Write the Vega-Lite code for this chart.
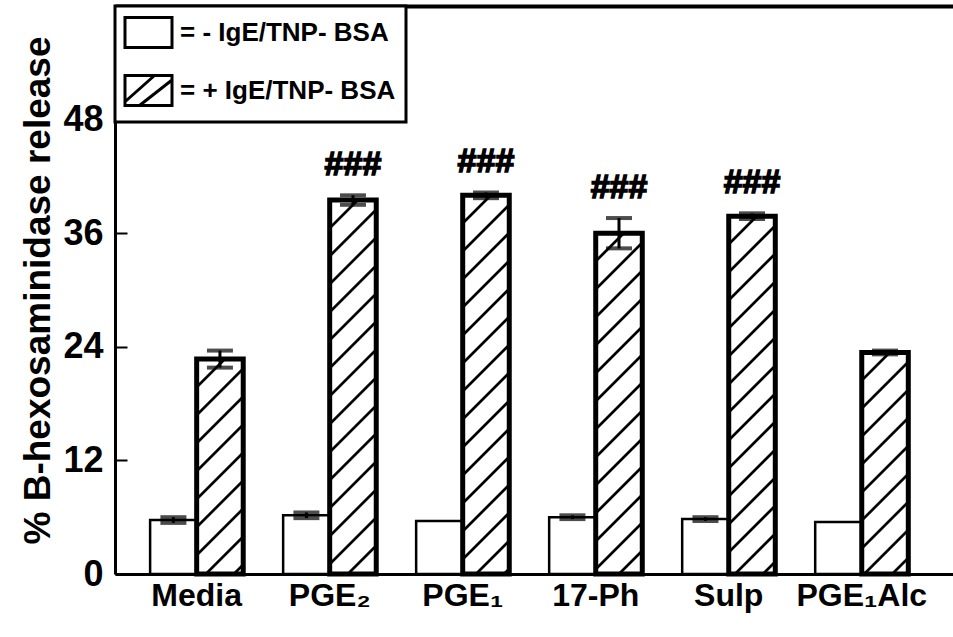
{
  "$schema": "https://vega.github.io/schema/vega-lite/v6.json",
  "width": 838,
  "height": 568,
  "autosize": {"type": "none"},
  "padding": {"left": 115, "top": 6, "right": 0, "bottom": 63},
  "background": "white",
  "config": {
    "view": {"stroke": null},
    "font": "Liberation Sans",
    "axis": {"domainColor": "black", "tickColor": "black", "labelColor": "black", "titleColor": "black", "grid": false},
    "legend": {"strokeWidth": 3, "strokeColor": "black", "fillColor": "white"}
  },
  "data": {
    "values": [
      {"cond": "Media", "group": "-", "mean": 5.7, "lo": 5.4, "hi": 6.0, "sig": ""},
      {"cond": "Media", "group": "+", "mean": 22.7, "lo": 21.8, "hi": 23.6, "sig": ""},
      {"cond": "PGE₂", "group": "-", "mean": 6.2, "lo": 5.9, "hi": 6.5, "sig": ""},
      {"cond": "PGE₂", "group": "+", "mean": 39.5, "lo": 39.0, "hi": 40.0, "sig": "###"},
      {"cond": "PGE₁", "group": "-", "mean": 5.6, "lo": null, "hi": null, "sig": ""},
      {"cond": "PGE₁", "group": "+", "mean": 40.0, "lo": 39.7, "hi": 40.3, "sig": "###"},
      {"cond": "17-Ph", "group": "-", "mean": 6.0, "lo": 5.8, "hi": 6.2, "sig": ""},
      {"cond": "17-Ph", "group": "+", "mean": 36.0, "lo": 34.4, "hi": 37.6, "sig": "###"},
      {"cond": "Sulp", "group": "-", "mean": 5.8, "lo": 5.6, "hi": 6.0, "sig": ""},
      {"cond": "Sulp", "group": "+", "mean": 37.8, "lo": 37.5, "hi": 38.1, "sig": "###"},
      {"cond": "PGE₁Alc", "group": "-", "mean": 5.5, "lo": null, "hi": null, "sig": ""},
      {"cond": "PGE₁Alc", "group": "+", "mean": 23.4, "lo": 23.2, "hi": 23.6, "sig": ""}
    ]
  },
  "resolve": {"axis": {"x": "independent", "y": "independent"}},
  "layer": [
    {
      "mark": {"type": "point", "filled": false, "stroke": "black", "strokeWidth": 3, "opacity": 1},
      "encoding": {
        "x": {"field": "cond", "type": "nominal", "sort": null,
          "axis": {"orient": "top", "labels": false, "ticks": false, "title": null, "domainWidth": 4, "domainColor": "black"}},
        "xOffset": {"field": "group", "type": "nominal", "scale": {"domain": ["-", "+"]}},
        "y": {"datum": 3, "type": "quantitative", "axis": null},
        "shape": {
          "field": "group", "type": "nominal",
          "scale": {"domain": ["-", "+"], "range": ["M-1.567,-1H1.567V1H-1.567Z", "M-1.567,-1H1.567V1H-1.567Z M-1.567,0.75L0.4,-1 M-0.6,1L1.567,-0.7"]},
          "legend": {
            "title": null, "orient": "top-left", "offset": 0, "padding": 10,
            "strokeColor": "black", "fillColor": "white",
            "labelFont": "Liberation Sans", "labelFontSize": 26, "labelFontWeight": "bold", "labelColor": "black", "labelLimit": 0,
            "labelExpr": "datum.label == '-' ? '= - IgE/TNP- BSA' : '= + IgE/TNP- BSA'",
            "symbolSize": 900, "symbolStrokeWidth": 3, "symbolStrokeColor": "black", "symbolFillColor": "white", "symbolOpacity": 1,
            "symbolOffset": 7, "labelOffset": 15, "rowPadding": 15
          }
        }
      }
    },
    {
      "mark": {"type": "bar", "stroke": "black"},
      "encoding": {
        "x": {"field": "cond", "type": "nominal", "sort": null,
          "scale": {"paddingInner": 0.3, "paddingOuter": 0.3, "align": 0.44},
          "axis": {"orient": "bottom", "title": null, "ticks": false, "domainWidth": 3, "labelAngle": 0,
            "labelFontSize": 32, "labelFontWeight": "bold", "labelPadding": 6}},
        "xOffset": {"field": "group", "type": "nominal", "scale": {"domain": ["-", "+"]}},
        "y": {"field": "mean", "type": "quantitative",
          "scale": {"domain": [0, 60], "nice": false, "zero": true},
          "axis": {"title": "% B-hexosaminidase release", "values": [0, 12, 24, 36, 48],
            "domainWidth": 3, "ticks": false, "labelPadding": 12,
            "labelFontSize": 36, "labelFontWeight": "bold", "titleFontSize": 37, "titleFontWeight": "bold",
            "titlePadding": 5}},
        "strokeWidth": {"condition": {"test": "datum.group == '+'", "value": 5}, "value": 2.5},
        "fill": {
          "condition": [
            {"test": "datum.group == '-'", "value": "white"},
            {"test": "datum.cond == 'Media'", "value": {"gradient": "linear", "x1": 0, "y1": 0, "x2": 0.4313, "y2": 1.9913, "stops": [
              {"offset": 0, "color": "white"},
              {"offset": 0.0565, "color": "white"}, {"offset": 0.06, "color": "black"}, {"offset": 0.065, "color": "black"}, {"offset": 0.0685, "color": "white"},
              {"offset": 0.119, "color": "white"}, {"offset": 0.1225, "color": "black"}, {"offset": 0.1275, "color": "black"}, {"offset": 0.131, "color": "white"},
              {"offset": 0.1815, "color": "white"}, {"offset": 0.185, "color": "black"}, {"offset": 0.19, "color": "black"}, {"offset": 0.1935, "color": "white"},
              {"offset": 0.244, "color": "white"}, {"offset": 0.2475, "color": "black"}, {"offset": 0.2525, "color": "black"}, {"offset": 0.256, "color": "white"},
              {"offset": 0.3065, "color": "white"}, {"offset": 0.31, "color": "black"}, {"offset": 0.315, "color": "black"}, {"offset": 0.3185, "color": "white"},
              {"offset": 0.369, "color": "white"}, {"offset": 0.3725, "color": "black"}, {"offset": 0.3775, "color": "black"}, {"offset": 0.381, "color": "white"},
              {"offset": 0.4315, "color": "white"}, {"offset": 0.435, "color": "black"}, {"offset": 0.44, "color": "black"}, {"offset": 0.4435, "color": "white"},
              {"offset": 0.494, "color": "white"}, {"offset": 0.4975, "color": "black"}, {"offset": 0.5025, "color": "black"}, {"offset": 0.506, "color": "white"},
              {"offset": 0.5565, "color": "white"}, {"offset": 0.56, "color": "black"}, {"offset": 0.565, "color": "black"}, {"offset": 0.5685, "color": "white"},
              {"offset": 0.619, "color": "white"}, {"offset": 0.6225, "color": "black"}, {"offset": 0.6275, "color": "black"}, {"offset": 0.631, "color": "white"},
              {"offset": 0.6815, "color": "white"}, {"offset": 0.685, "color": "black"}, {"offset": 0.69, "color": "black"}, {"offset": 0.6935, "color": "white"},
              {"offset": 0.744, "color": "white"}, {"offset": 0.7475, "color": "black"}, {"offset": 0.7525, "color": "black"}, {"offset": 0.756, "color": "white"},
              {"offset": 0.8065, "color": "white"}, {"offset": 0.81, "color": "black"}, {"offset": 0.815, "color": "black"}, {"offset": 0.8185, "color": "white"},
              {"offset": 0.869, "color": "white"}, {"offset": 0.8725, "color": "black"}, {"offset": 0.8775, "color": "black"}, {"offset": 0.881, "color": "white"},
              {"offset": 0.9315, "color": "white"}, {"offset": 0.935, "color": "black"}, {"offset": 0.94, "color": "black"}, {"offset": 0.9435, "color": "white"},
              {"offset": 1, "color": "white"}]}},
            {"test": "datum.cond == 'PGE₂'", "value": {"gradient": "linear", "x1": 0, "y1": 0, "x2": 0.1469, "y2": 1.1799, "stops": [
              {"offset": 0, "color": "white"},
              {"offset": 0.0565, "color": "white"}, {"offset": 0.06, "color": "black"}, {"offset": 0.065, "color": "black"}, {"offset": 0.0685, "color": "white"},
              {"offset": 0.119, "color": "white"}, {"offset": 0.1225, "color": "black"}, {"offset": 0.1275, "color": "black"}, {"offset": 0.131, "color": "white"},
              {"offset": 0.1815, "color": "white"}, {"offset": 0.185, "color": "black"}, {"offset": 0.19, "color": "black"}, {"offset": 0.1935, "color": "white"},
              {"offset": 0.244, "color": "white"}, {"offset": 0.2475, "color": "black"}, {"offset": 0.2525, "color": "black"}, {"offset": 0.256, "color": "white"},
              {"offset": 0.3065, "color": "white"}, {"offset": 0.31, "color": "black"}, {"offset": 0.315, "color": "black"}, {"offset": 0.3185, "color": "white"},
              {"offset": 0.369, "color": "white"}, {"offset": 0.3725, "color": "black"}, {"offset": 0.3775, "color": "black"}, {"offset": 0.381, "color": "white"},
              {"offset": 0.4315, "color": "white"}, {"offset": 0.435, "color": "black"}, {"offset": 0.44, "color": "black"}, {"offset": 0.4435, "color": "white"},
              {"offset": 0.494, "color": "white"}, {"offset": 0.4975, "color": "black"}, {"offset": 0.5025, "color": "black"}, {"offset": 0.506, "color": "white"},
              {"offset": 0.5565, "color": "white"}, {"offset": 0.56, "color": "black"}, {"offset": 0.565, "color": "black"}, {"offset": 0.5685, "color": "white"},
              {"offset": 0.619, "color": "white"}, {"offset": 0.6225, "color": "black"}, {"offset": 0.6275, "color": "black"}, {"offset": 0.631, "color": "white"},
              {"offset": 0.6815, "color": "white"}, {"offset": 0.685, "color": "black"}, {"offset": 0.69, "color": "black"}, {"offset": 0.6935, "color": "white"},
              {"offset": 0.744, "color": "white"}, {"offset": 0.7475, "color": "black"}, {"offset": 0.7525, "color": "black"}, {"offset": 0.756, "color": "white"},
              {"offset": 0.8065, "color": "white"}, {"offset": 0.81, "color": "black"}, {"offset": 0.815, "color": "black"}, {"offset": 0.8185, "color": "white"},
              {"offset": 0.869, "color": "white"}, {"offset": 0.8725, "color": "black"}, {"offset": 0.8775, "color": "black"}, {"offset": 0.881, "color": "white"},
              {"offset": 0.9315, "color": "white"}, {"offset": 0.935, "color": "black"}, {"offset": 0.94, "color": "black"}, {"offset": 0.9435, "color": "white"},
              {"offset": 1, "color": "white"}]}},
            {"test": "datum.cond == 'PGE₁'", "value": {"gradient": "linear", "x1": 0, "y1": 0, "x2": 0.1432, "y2": 1.1654, "stops": [
              {"offset": 0, "color": "white"},
              {"offset": 0.0565, "color": "white"}, {"offset": 0.06, "color": "black"}, {"offset": 0.065, "color": "black"}, {"offset": 0.0685, "color": "white"},
              {"offset": 0.119, "color": "white"}, {"offset": 0.1225, "color": "black"}, {"offset": 0.1275, "color": "black"}, {"offset": 0.131, "color": "white"},
              {"offset": 0.1815, "color": "white"}, {"offset": 0.185, "color": "black"}, {"offset": 0.19, "color": "black"}, {"offset": 0.1935, "color": "white"},
              {"offset": 0.244, "color": "white"}, {"offset": 0.2475, "color": "black"}, {"offset": 0.2525, "color": "black"}, {"offset": 0.256, "color": "white"},
              {"offset": 0.3065, "color": "white"}, {"offset": 0.31, "color": "black"}, {"offset": 0.315, "color": "black"}, {"offset": 0.3185, "color": "white"},
              {"offset": 0.369, "color": "white"}, {"offset": 0.3725, "color": "black"}, {"offset": 0.3775, "color": "black"}, {"offset": 0.381, "color": "white"},
              {"offset": 0.4315, "color": "white"}, {"offset": 0.435, "color": "black"}, {"offset": 0.44, "color": "black"}, {"offset": 0.4435, "color": "white"},
              {"offset": 0.494, "color": "white"}, {"offset": 0.4975, "color": "black"}, {"offset": 0.5025, "color": "black"}, {"offset": 0.506, "color": "white"},
              {"offset": 0.5565, "color": "white"}, {"offset": 0.56, "color": "black"}, {"offset": 0.565, "color": "black"}, {"offset": 0.5685, "color": "white"},
              {"offset": 0.619, "color": "white"}, {"offset": 0.6225, "color": "black"}, {"offset": 0.6275, "color": "black"}, {"offset": 0.631, "color": "white"},
              {"offset": 0.6815, "color": "white"}, {"offset": 0.685, "color": "black"}, {"offset": 0.69, "color": "black"}, {"offset": 0.6935, "color": "white"},
              {"offset": 0.744, "color": "white"}, {"offset": 0.7475, "color": "black"}, {"offset": 0.7525, "color": "black"}, {"offset": 0.756, "color": "white"},
              {"offset": 0.8065, "color": "white"}, {"offset": 0.81, "color": "black"}, {"offset": 0.815, "color": "black"}, {"offset": 0.8185, "color": "white"},
              {"offset": 0.869, "color": "white"}, {"offset": 0.8725, "color": "black"}, {"offset": 0.8775, "color": "black"}, {"offset": 0.881, "color": "white"},
              {"offset": 0.9315, "color": "white"}, {"offset": 0.935, "color": "black"}, {"offset": 0.94, "color": "black"}, {"offset": 0.9435, "color": "white"},
              {"offset": 1, "color": "white"}]}},
            {"test": "datum.cond == '17-Ph'", "value": {"gradient": "linear", "x1": 0, "y1": 0, "x2": 0.1763, "y2": 1.2905, "stops": [
              {"offset": 0, "color": "white"},
              {"offset": 0.0565, "color": "white"}, {"offset": 0.06, "color": "black"}, {"offset": 0.065, "color": "black"}, {"offset": 0.0685, "color": "white"},
              {"offset": 0.119, "color": "white"}, {"offset": 0.1225, "color": "black"}, {"offset": 0.1275, "color": "black"}, {"offset": 0.131, "color": "white"},
              {"offset": 0.1815, "color": "white"}, {"offset": 0.185, "color": "black"}, {"offset": 0.19, "color": "black"}, {"offset": 0.1935, "color": "white"},
              {"offset": 0.244, "color": "white"}, {"offset": 0.2475, "color": "black"}, {"offset": 0.2525, "color": "black"}, {"offset": 0.256, "color": "white"},
              {"offset": 0.3065, "color": "white"}, {"offset": 0.31, "color": "black"}, {"offset": 0.315, "color": "black"}, {"offset": 0.3185, "color": "white"},
              {"offset": 0.369, "color": "white"}, {"offset": 0.3725, "color": "black"}, {"offset": 0.3775, "color": "black"}, {"offset": 0.381, "color": "white"},
              {"offset": 0.4315, "color": "white"}, {"offset": 0.435, "color": "black"}, {"offset": 0.44, "color": "black"}, {"offset": 0.4435, "color": "white"},
              {"offset": 0.494, "color": "white"}, {"offset": 0.4975, "color": "black"}, {"offset": 0.5025, "color": "black"}, {"offset": 0.506, "color": "white"},
              {"offset": 0.5565, "color": "white"}, {"offset": 0.56, "color": "black"}, {"offset": 0.565, "color": "black"}, {"offset": 0.5685, "color": "white"},
              {"offset": 0.619, "color": "white"}, {"offset": 0.6225, "color": "black"}, {"offset": 0.6275, "color": "black"}, {"offset": 0.631, "color": "white"},
              {"offset": 0.6815, "color": "white"}, {"offset": 0.685, "color": "black"}, {"offset": 0.69, "color": "black"}, {"offset": 0.6935, "color": "white"},
              {"offset": 0.744, "color": "white"}, {"offset": 0.7475, "color": "black"}, {"offset": 0.7525, "color": "black"}, {"offset": 0.756, "color": "white"},
              {"offset": 0.8065, "color": "white"}, {"offset": 0.81, "color": "black"}, {"offset": 0.815, "color": "black"}, {"offset": 0.8185, "color": "white"},
              {"offset": 0.869, "color": "white"}, {"offset": 0.8725, "color": "black"}, {"offset": 0.8775, "color": "black"}, {"offset": 0.881, "color": "white"},
              {"offset": 0.9315, "color": "white"}, {"offset": 0.935, "color": "black"}, {"offset": 0.94, "color": "black"}, {"offset": 0.9435, "color": "white"},
              {"offset": 1, "color": "white"}]}},
            {"test": "datum.cond == 'Sulp'", "value": {"gradient": "linear", "x1": 0, "y1": 0, "x2": 0.1602, "y2": 1.2313, "stops": [
              {"offset": 0, "color": "white"},
              {"offset": 0.0565, "color": "white"}, {"offset": 0.06, "color": "black"}, {"offset": 0.065, "color": "black"}, {"offset": 0.0685, "color": "white"},
              {"offset": 0.119, "color": "white"}, {"offset": 0.1225, "color": "black"}, {"offset": 0.1275, "color": "black"}, {"offset": 0.131, "color": "white"},
              {"offset": 0.1815, "color": "white"}, {"offset": 0.185, "color": "black"}, {"offset": 0.19, "color": "black"}, {"offset": 0.1935, "color": "white"},
              {"offset": 0.244, "color": "white"}, {"offset": 0.2475, "color": "black"}, {"offset": 0.2525, "color": "black"}, {"offset": 0.256, "color": "white"},
              {"offset": 0.3065, "color": "white"}, {"offset": 0.31, "color": "black"}, {"offset": 0.315, "color": "black"}, {"offset": 0.3185, "color": "white"},
              {"offset": 0.369, "color": "white"}, {"offset": 0.3725, "color": "black"}, {"offset": 0.3775, "color": "black"}, {"offset": 0.381, "color": "white"},
              {"offset": 0.4315, "color": "white"}, {"offset": 0.435, "color": "black"}, {"offset": 0.44, "color": "black"}, {"offset": 0.4435, "color": "white"},
              {"offset": 0.494, "color": "white"}, {"offset": 0.4975, "color": "black"}, {"offset": 0.5025, "color": "black"}, {"offset": 0.506, "color": "white"},
              {"offset": 0.5565, "color": "white"}, {"offset": 0.56, "color": "black"}, {"offset": 0.565, "color": "black"}, {"offset": 0.5685, "color": "white"},
              {"offset": 0.619, "color": "white"}, {"offset": 0.6225, "color": "black"}, {"offset": 0.6275, "color": "black"}, {"offset": 0.631, "color": "white"},
              {"offset": 0.6815, "color": "white"}, {"offset": 0.685, "color": "black"}, {"offset": 0.69, "color": "black"}, {"offset": 0.6935, "color": "white"},
              {"offset": 0.744, "color": "white"}, {"offset": 0.7475, "color": "black"}, {"offset": 0.7525, "color": "black"}, {"offset": 0.756, "color": "white"},
              {"offset": 0.8065, "color": "white"}, {"offset": 0.81, "color": "black"}, {"offset": 0.815, "color": "black"}, {"offset": 0.8185, "color": "white"},
              {"offset": 0.869, "color": "white"}, {"offset": 0.8725, "color": "black"}, {"offset": 0.8775, "color": "black"}, {"offset": 0.881, "color": "white"},
              {"offset": 0.9315, "color": "white"}, {"offset": 0.935, "color": "black"}, {"offset": 0.94, "color": "black"}, {"offset": 0.9435, "color": "white"},
              {"offset": 1, "color": "white"}]}},
            {"test": "datum.cond == 'PGE₁Alc'", "value": {"gradient": "linear", "x1": 0, "y1": 0, "x2": 0.4071, "y2": 1.937, "stops": [
              {"offset": 0, "color": "white"},
              {"offset": 0.0565, "color": "white"}, {"offset": 0.06, "color": "black"}, {"offset": 0.065, "color": "black"}, {"offset": 0.0685, "color": "white"},
              {"offset": 0.119, "color": "white"}, {"offset": 0.1225, "color": "black"}, {"offset": 0.1275, "color": "black"}, {"offset": 0.131, "color": "white"},
              {"offset": 0.1815, "color": "white"}, {"offset": 0.185, "color": "black"}, {"offset": 0.19, "color": "black"}, {"offset": 0.1935, "color": "white"},
              {"offset": 0.244, "color": "white"}, {"offset": 0.2475, "color": "black"}, {"offset": 0.2525, "color": "black"}, {"offset": 0.256, "color": "white"},
              {"offset": 0.3065, "color": "white"}, {"offset": 0.31, "color": "black"}, {"offset": 0.315, "color": "black"}, {"offset": 0.3185, "color": "white"},
              {"offset": 0.369, "color": "white"}, {"offset": 0.3725, "color": "black"}, {"offset": 0.3775, "color": "black"}, {"offset": 0.381, "color": "white"},
              {"offset": 0.4315, "color": "white"}, {"offset": 0.435, "color": "black"}, {"offset": 0.44, "color": "black"}, {"offset": 0.4435, "color": "white"},
              {"offset": 0.494, "color": "white"}, {"offset": 0.4975, "color": "black"}, {"offset": 0.5025, "color": "black"}, {"offset": 0.506, "color": "white"},
              {"offset": 0.5565, "color": "white"}, {"offset": 0.56, "color": "black"}, {"offset": 0.565, "color": "black"}, {"offset": 0.5685, "color": "white"},
              {"offset": 0.619, "color": "white"}, {"offset": 0.6225, "color": "black"}, {"offset": 0.6275, "color": "black"}, {"offset": 0.631, "color": "white"},
              {"offset": 0.6815, "color": "white"}, {"offset": 0.685, "color": "black"}, {"offset": 0.69, "color": "black"}, {"offset": 0.6935, "color": "white"},
              {"offset": 0.744, "color": "white"}, {"offset": 0.7475, "color": "black"}, {"offset": 0.7525, "color": "black"}, {"offset": 0.756, "color": "white"},
              {"offset": 0.8065, "color": "white"}, {"offset": 0.81, "color": "black"}, {"offset": 0.815, "color": "black"}, {"offset": 0.8185, "color": "white"},
              {"offset": 0.869, "color": "white"}, {"offset": 0.8725, "color": "black"}, {"offset": 0.8775, "color": "black"}, {"offset": 0.881, "color": "white"},
              {"offset": 0.9315, "color": "white"}, {"offset": 0.935, "color": "black"}, {"offset": 0.94, "color": "black"}, {"offset": 0.9435, "color": "white"},
              {"offset": 1, "color": "white"}]}}
          ],
          "value": "white"
        }
      }
    },
    {
      "mark": {"type": "rule", "color": "black", "strokeWidth": 3},
      "encoding": {
        "x": {"field": "cond", "type": "nominal", "sort": null, "axis": null},
        "xOffset": {"field": "group", "type": "nominal", "scale": {"domain": ["-", "+"]}},
        "y": {"field": "lo", "type": "quantitative",
          "axis": {"orient": "left", "offset": -12, "values": [0, 12, 24, 36, 48], "labels": false, "domain": false,
            "title": null, "ticks": true, "tickSize": 12, "tickWidth": 2, "tickColor": "black"}},
        "y2": {"field": "hi"}
      }
    },
    {
      "mark": {"type": "tick", "color": "black", "thickness": 4, "size": 26},
      "encoding": {
        "x": {"field": "cond", "type": "nominal", "sort": null, "axis": null},
        "xOffset": {"field": "group", "type": "nominal", "scale": {"domain": ["-", "+"]}},
        "y": {"field": "lo", "type": "quantitative", "axis": null}
      }
    },
    {
      "mark": {"type": "tick", "color": "black", "thickness": 4, "size": 26},
      "encoding": {
        "x": {"field": "cond", "type": "nominal", "sort": null, "axis": null},
        "xOffset": {"field": "group", "type": "nominal", "scale": {"domain": ["-", "+"]}},
        "y": {"field": "hi", "type": "quantitative", "axis": null}
      }
    },
    {
      "mark": {"type": "text", "font": "Liberation Sans", "fontWeight": "bold", "fontSize": 34, "baseline": "middle", "align": "center", "dy": -30, "fill": "black", "stroke": "black", "strokeWidth": 1.5},
      "encoding": {
        "x": {"field": "cond", "type": "nominal", "sort": null, "axis": null},
        "xOffset": {"field": "group", "type": "nominal", "scale": {"domain": ["-", "+"]}},
        "y": {"field": "hi", "type": "quantitative", "axis": null},
        "text": {"field": "sig"}
      }
    }
  ]
}
